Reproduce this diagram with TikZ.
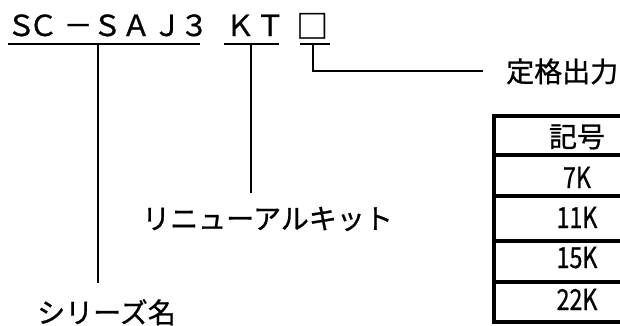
\documentclass[tikz,border=0pt]{standalone}
\usepackage{fontspec}
\setmainfont{Noto Sans CJK JP}[FakeBold=0.9]
\usepackage{graphicx}
\begin{document}
\begin{tikzpicture}[x=1pt,y=-1pt]
\useasboundingbox (0,0) rectangle (620,325);
\tikzset{
  code/.style={inner sep=0pt, anchor=base west, font=\fontsize{29}{29}\selectfont},
  label/.style={inner sep=0pt, anchor=base west, font=\fontsize{28}{28}\selectfont},
  cell/.style={inner sep=0pt, anchor=base, font=\fontsize{29}{29}\selectfont},
  lead/.style={line width=2.2pt},
  tbl/.style={line width=3.6pt},
}
% code parts
\node[code] (series) at (8,36) {\hspace{13pt}\makebox[0pt]{Ｓ}\hspace{22pt}\makebox[0pt]{Ｃ}\hspace{35pt}\makebox[0pt]{－}\hspace{29pt}\makebox[0pt]{Ｓ}\hspace{29pt}\makebox[0pt]{Ａ}\hspace{31pt}\makebox[0pt]{Ｊ}\hspace{27pt}\makebox[0pt]{３}\hspace{6pt}};
\node[code] (kit) at (224,36) {\hspace{16pt}\makebox[0pt]{Ｋ}\hspace{30pt}\makebox[0pt]{Ｔ}\hspace{9pt}};
\node[code] (out) at (300,38) {\hspace{12pt}\makebox[0pt]{\fontsize{32}{32}\selectfont □}\hspace{18pt}};
% labels
\node[label] (lout) at (506,82) {定格出力};
\node[label] (lkit) at (142,229) {リニューアルキット};
\node[label] (lser) at (37,323) {シリーズ名};
% underlines
\coordinate (u1a) at (8,44);  \coordinate (u1b) at (200,44);
\coordinate (u2a) at (224,44); \coordinate (u2b) at (279,44);
\coordinate (u3a) at (300,44); \coordinate (u3b) at (330,44);
\draw[lead] (u1a) -- (u1b);
\draw[lead] (u2a) -- (u2b);
\draw[lead] (u3a) -- (u3b);
% leaders
\coordinate (t1) at (98,44);  \coordinate (e1) at (98,283);
\coordinate (t2) at (251,44); \coordinate (e2) at (251,193);
\coordinate (t3) at (313,44); \coordinate (e3) at (483,71);
\draw[lead] (t1) -- (e1);
\draw[lead] (t2) -- (e2);
\draw[lead] (t3) |- (e3);
% table
\coordinate (ta) at (494,116); \coordinate (tb) at (660,322);
\draw[tbl] (ta) rectangle (tb);
\foreach \yy in {155,196,241,282} {\draw[tbl] (494,\yy) -- (660,\yy);}
\node[cell] (c0) at (577,147) {\fontsize{28}{28}\selectfont 記号};
\node[cell] (c1) at (577,188) {\scalebox{0.8}[1]{7K}};
\node[cell] (c2) at (577,228) {\scalebox{0.8}[1]{11K}};
\node[cell] (c3) at (577,268) {\scalebox{0.8}[1]{15K}};
\node[cell] (c4) at (577,310) {\scalebox{0.8}[1]{22K}};
\end{tikzpicture}
\end{document}
